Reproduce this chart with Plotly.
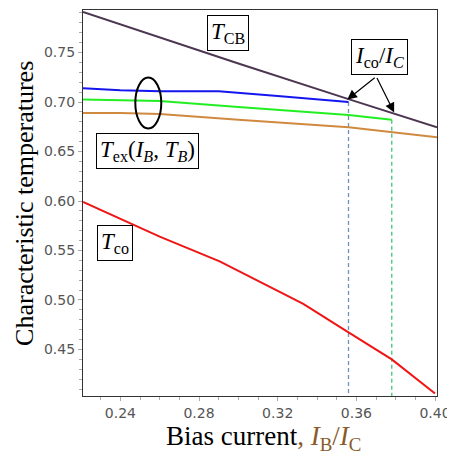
import plotly.graph_objects as go

# ---- data ----
tcb_x = [0.221, 0.30, 0.356, 0.378, 0.401]
tcb_y = [0.791, 0.739, 0.703, 0.689, 0.6745]

blue_x = [0.221, 0.24, 0.26, 0.29, 0.32, 0.356]
blue_y = [0.714, 0.712, 0.711, 0.711, 0.706, 0.700]

green_x = [0.221, 0.24, 0.26, 0.30, 0.356, 0.378]
green_y = [0.7025, 0.702, 0.701, 0.695, 0.687, 0.682]

orange_x = [0.221, 0.24, 0.26, 0.30, 0.356, 0.401]
orange_y = [0.689, 0.689, 0.688, 0.682, 0.6746, 0.6644]

red_x = [0.221, 0.24, 0.26, 0.2905, 0.333, 0.355, 0.378, 0.40]
red_y = [0.599, 0.582, 0.564, 0.539, 0.496, 0.4685, 0.440, 0.4056]

cut_x = [0.356, 0.378]
cut_y = [0.700, 0.682]
cut_colors = ["#6f8fc4", "#3fc57a"]

x_range = [0.221, 0.401]
y_range = [0.403, 0.793]
x_ticks = [0.24, 0.28, 0.32, 0.36, 0.40]
y_ticks = [0.45, 0.50, 0.55, 0.60, 0.65, 0.70, 0.75]

fig = go.Figure()

for cx, cy, cc in zip(cut_x, cut_y, cut_colors):
    fig.add_trace(go.Scatter(x=[cx, cx], y=[cy, y_range[0]], mode="lines",
                             line=dict(color=cc, width=1.3, dash="4px,3px"),
                             showlegend=False, hoverinfo="skip"))

fig.add_trace(go.Scatter(x=orange_x, y=orange_y, mode="lines", line=dict(color="#d08a40", width=2), showlegend=False))
fig.add_trace(go.Scatter(x=green_x, y=green_y, mode="lines", line=dict(color="#22ee22", width=2), showlegend=False))
fig.add_trace(go.Scatter(x=blue_x, y=blue_y, mode="lines", line=dict(color="#1515f0", width=2), showlegend=False))
fig.add_trace(go.Scatter(x=tcb_x, y=tcb_y, mode="lines", line=dict(color="#4d3652", width=2), showlegend=False))
fig.add_trace(go.Scatter(x=red_x, y=red_y, mode="lines", line=dict(color="#f01515", width=2), showlegend=False))

serif = "Liberation Serif"
box = dict(bordercolor="black", borderwidth=1, borderpad=3, bgcolor="white",
           showarrow=False, font=dict(family=serif, size=23, color="black"),
           xref="x", yref="y")

fig.add_annotation(x=0.2949, y=0.7702, text="<i>T</i><sub>CB</sub>", **box)
fig.add_annotation(x=0.3716, y=0.746, text="<i>I</i><sub>co</sub>/<i>I</i><sub><i>C</i></sub>", **box)
fig.add_annotation(x=0.2539, y=0.6505,
                   text="<i>T</i><sub>ex</sub>(<i>I</i><sub><i>B</i></sub>, <i>T</i><sub><i>B</i></sub>)", **box)
fig.add_annotation(x=0.2375, y=0.558, text="<i>T</i><sub>co</sub>", **box)

# arrows
for hx, hy in [(0.3554, 0.7025), (0.3792, 0.6894)]:
    fig.add_annotation(x=hx, y=hy, ax=0.3701, ay=0.7258, xref="x", yref="y",
                       axref="x", ayref="y", text="", showarrow=True,
                       arrowhead=2, arrowsize=1.6, arrowwidth=1.2, arrowcolor="black")

fig.add_shape(type="circle", xref="x", yref="y", x0=0.2476, x1=0.2608, y0=0.6733, y1=0.7248,
              line=dict(color="black", width=2))

# axis titles
fig.add_annotation(xref="paper", yref="paper", x=0.511, y=-0.108, xanchor="center", yanchor="middle",
                   showarrow=False,
                   text="Bias current<span style='color:#8a5a2a'>, <i>I</i><sub>B</sub>/<i>I</i><sub>C</sub></span>",
                   font=dict(family=serif, size=27, color="black"))
fig.add_annotation(xref="paper", yref="paper", x=-0.167, y=0.50, xanchor="center", yanchor="middle",
                   showarrow=False, textangle=-90, text="Characteristic temperatures",
                   font=dict(family=serif, size=26, color="black"))

axis_common = dict(showline=True, mirror=True, linecolor="#333", linewidth=1.2, automargin=False,
                   ticks="outside", ticklen=4, tickcolor="#aaa", showgrid=False, zeroline=False,
                   tickfont=dict(family="DejaVu Sans", size=14, color="#555"))

fig.update_xaxes(range=x_range, tickvals=x_ticks, ticktext=[f"{v:.2f}" for v in x_ticks],
                 minor=dict(dtick=0.01, ticks="outside", ticklen=3, tickcolor="#aaa"),
                 **axis_common)
fig.update_yaxes(range=y_range, tickvals=y_ticks, ticktext=[f"{v:.2f}" for v in y_ticks],
                 minor=dict(dtick=0.01, ticks="outside", ticklen=3, tickcolor="#aaa"),
                 **axis_common)

# the page body has an 8px margin, so the figure is sized/placed to compensate
fig.update_layout(width=447, height=448, margin=dict(l=75, r=18, t=2, b=60),
                  plot_bgcolor="white", paper_bgcolor="white")

fig.write_html("out.html")
